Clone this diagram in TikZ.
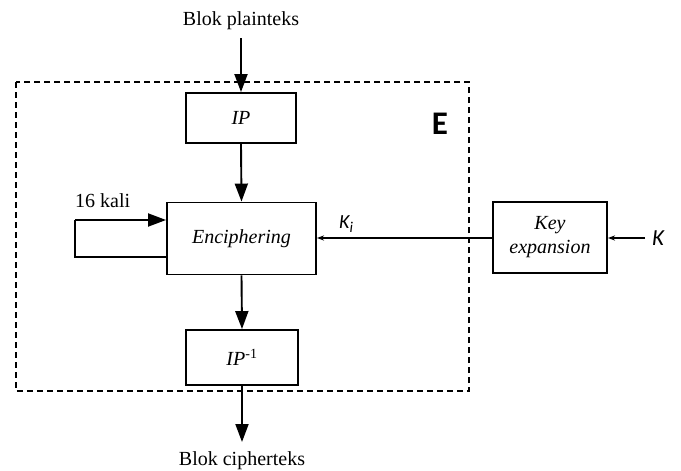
\documentclass[tikz,border=0pt]{standalone}
\usepackage{fontspec}
\setmainfont{Liberation Serif}
\newfontfamily\calib{Carlito}
\usetikzlibrary{arrows.meta}
\begin{document}
\begin{tikzpicture}[x=1pt,y=-1pt,
  blk/.style={draw,line width=1.9pt,minimum width=#1,inner sep=0pt,font=\fontsize{20}{24}\selectfont\itshape,align=center},
  big/.style={-{Triangle[length=18pt,width=13pt]},line width=1.9pt},
  small/.style={-{Stealth[length=7pt,width=5pt]},line width=1.5pt},
  lbl/.style={font=\fontsize{20}{24}\selectfont}]
\useasboundingbox (0,0) rectangle (681,471);
\draw[line width=1.9pt,dash pattern=on 6pt off 4pt] (16,82) rectangle (469,391);
\node[blk=110pt,minimum height=50pt] (ip) at (241,118) {IP};
\node[blk=149pt,minimum height=72pt] (enc) at (241.5,238.5) {Enciphering};
\node[blk=112pt,minimum height=55pt] (ipinv) at (242,357.5) {IP\textsuperscript{\upshape -1}};
\node[blk=114pt,minimum height=71pt] (key) at (550,237.5) {Key\\expansion};
\node[lbl,anchor=base] (pt) at (241,26) {Blok plainteks};
\node[lbl,anchor=base] (ct) at (242,465) {Blok cipherteks};
\node[lbl,anchor=base west,inner sep=0pt] (kali) at (75,207) {16 kali};
\node[font=\calib\fontsize{20}{24}\selectfont\itshape,anchor=base west,inner sep=0pt] (ki) at (339,228.5) {K\raisebox{-4pt}{\fontsize{15}{18}\selectfont i}};
\node[font=\calib\fontsize{23}{27}\selectfont\itshape,anchor=base west,inner sep=0pt] (k) at (652,245) {K};
\node[font=\calib\fontsize{33}{38}\selectfont\bfseries] (e) at (440,124) {E};
\coordinate (kin) at (645,238);
\draw[big] (241,38) -- (ip.north);
\draw[big] (ip.south) -- (enc.north);
\draw[big] (enc.south) -- (ipinv.north);
\draw[big] (ipinv.south) -- (242,442);
\draw[small] (key.west |- 0,238) -- (enc.east |- 0,238);
\draw[small] (kin) -- (key.east |- kin);
\draw[line width=1.9pt] (enc.west |- 0,257) -- (75,257) -- (75,220);
\draw[big] (75,220) -- (enc.west |- 0,220);
\end{tikzpicture}
\end{document}
